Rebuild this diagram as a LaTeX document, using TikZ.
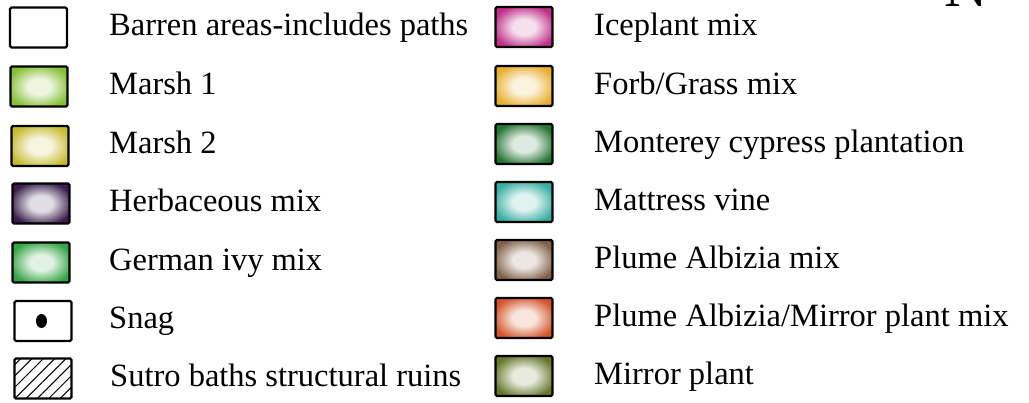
\documentclass[tikz,border=0pt]{standalone}
\usepackage{fontspec}
\setmainfont{Liberation Serif}
\usetikzlibrary{patterns.meta}

% coloured-pencil fill: pale centre fading to the full colour at the edge
\colorlet{pencilin}{white}
\colorlet{pencilout}{black}
\pgfdeclareradialshading[pencilin,pencilout]{pencil}{\pgfpoint{0bp}{0bp}}{%
  color(0bp)=(pencilin); color(10bp)=(pencilin);
  color(28bp)=(pencilout); color(50bp)=(pencilout)}

\definecolor{marshA}{HTML}{86BF34}
\definecolor{marshB}{HTML}{C6BB30}
\definecolor{herb}{HTML}{3A1F4E}
\definecolor{ivy}{HTML}{34A544}
\definecolor{iceplant}{HTML}{BF2E88}
\definecolor{forb}{HTML}{E8AE2C}
\definecolor{cypress}{HTML}{267534}
\definecolor{mattress}{HTML}{36AEA2}
\definecolor{plume}{HTML}{806046}
\definecolor{plumemirror}{HTML}{D25428}
\definecolor{mirror}{HTML}{66762A}

\tikzset{
  box/.style={draw=black, line width=2.2pt, rounded corners=1.5pt,
    minimum width=57pt, minimum height=40pt, inner sep=0pt},
  swatch/.style={box, shading=pencil,
    /utils/exec={\colorlet{pencilout}{#1}\colorlet{pencilin}{#1!15!white}}},
  legtext/.style={anchor=base west, inner sep=0pt,
    font=\fontsize{32.5}{38}\selectfont},
}

\begin{document}
\begin{tikzpicture}[x=1pt, y=-1pt]
\useasboundingbox (0,0) rectangle (1029,402);
\fill[white] (0,0) rectangle (1029,402);

% north arrow letter, cut off by the top edge
\begin{scope}
  \clip (0,0) rectangle (1029,402);
  \node[anchor=base west, inner sep=0pt, font=\fontsize{60}{60}\selectfont] (north) at (944,6) {N};
\end{scope}

% left column
\node[box, fill=white] (s1) at (38.5,27.5) {};
\node[swatch=marshA] (s2) at (39,86.5) {};
\node[swatch=marshB] (s3) at (40,146) {};
\node[swatch=herb] (s4) at (41,203.5) {};
\node[swatch=ivy] (s5) at (41,262.5) {};
\node[box, fill=white] (s6) at (43,321) {};
\fill[black] ([xshift=-1.5pt]s6.center) ellipse [x radius=5.5pt, y radius=7pt];
\node[box, pattern={Lines[angle=45, distance=8pt, line width=1pt]}] (s7) at (43,378.5) {};

\node[legtext] (t1) at (109,35) {Barren areas-includes paths};
\node[legtext] (t2) at (109,94) {Marsh 1};
\node[legtext] (t3) at (109,153) {Marsh 2};
\node[legtext] (t4) at (109,211) {Herbaceous mix};
\node[legtext] (t5) at (109,270) {German ivy mix};
\node[legtext] (t6) at (109,328) {Snag};
\node[legtext] (t7) at (110,386) {Sutro baths structural ruins};

% right column
\node[swatch=iceplant] (r1) at (524,27) {};
\node[swatch=forb] (r2) at (524,86) {};
\node[swatch=cypress] (r3) at (524,144) {};
\node[swatch=mattress] (r4) at (524,202) {};
\node[swatch=plume] (r5) at (524,260) {};
\node[swatch=plumemirror] (r6) at (524,318) {};
\node[swatch=mirror] (r7) at (524,376) {};

\node[legtext] (u1) at (594,35) {Iceplant mix};
\node[legtext] (u2) at (594,94) {Forb/Grass mix};
\node[legtext] (u3) at (594,152) {Monterey cypress plantation};
\node[legtext] (u4) at (594,210) {Mattress vine};
\node[legtext] (u5) at (594,268) {Plume Albizia mix};
\node[legtext] (u6) at (594,326) {Plume Albizia/Mirror plant mix};
\node[legtext] (u7) at (594,384) {Mirror plant};
\end{tikzpicture}
\end{document}
